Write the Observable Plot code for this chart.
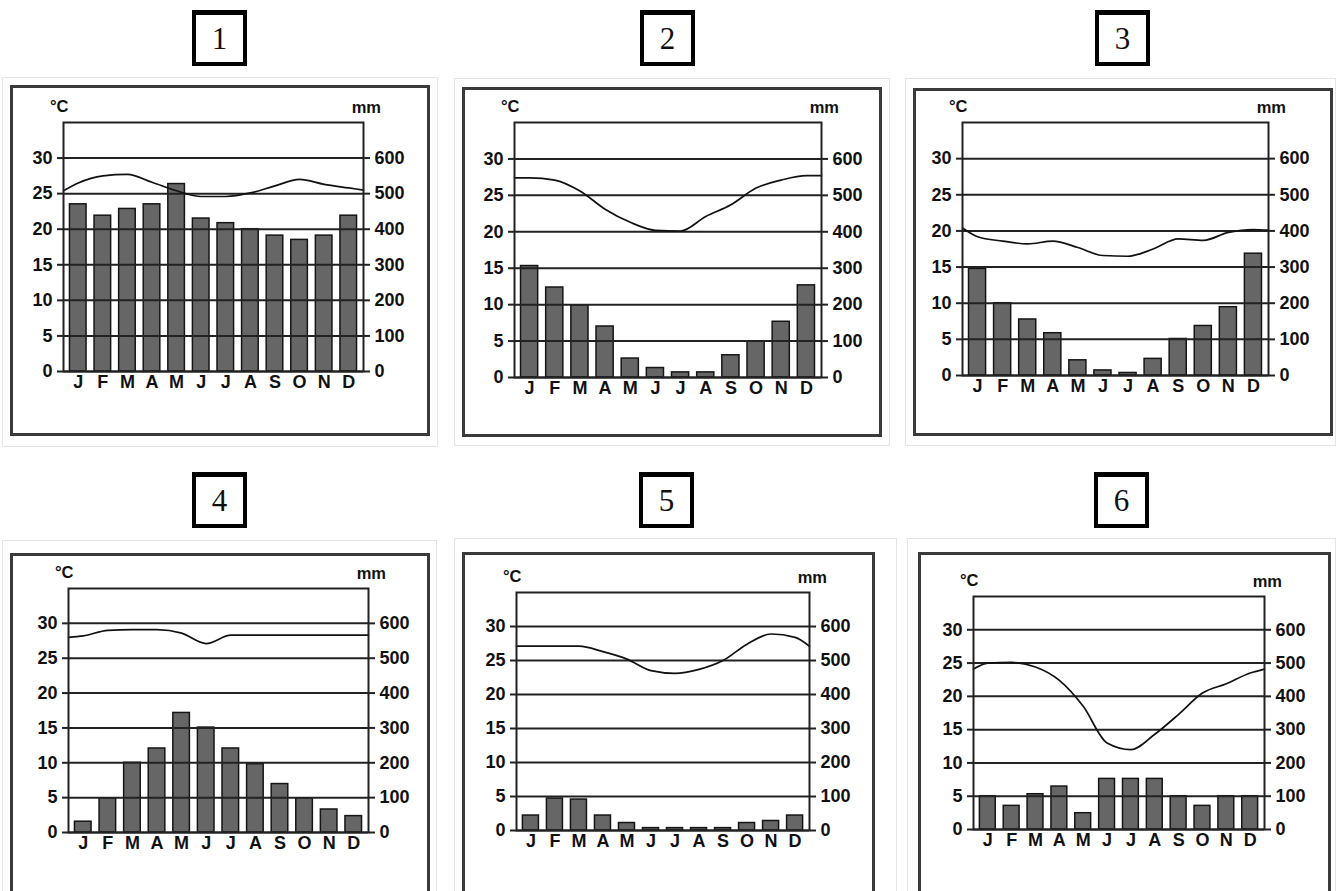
<!DOCTYPE html>
<html><head><meta charset="utf-8">
<script src="https://cdn.jsdelivr.net/npm/d3@7"></script>
<script src="https://cdn.jsdelivr.net/npm/@observablehq/plot@0.6"></script>
<style>
body{margin:0;background:#fff;overflow:hidden}
#page{position:relative;width:1336px;height:891px;overflow:hidden;font-family:"Liberation Sans",Arial,sans-serif}
.num{position:absolute;box-sizing:border-box;width:55px;height:56px;border:4px solid #000;border-top-width:5px;background:#fff;font-family:"Liberation Serif","Times New Roman",serif;font-size:31px;display:flex;align-items:center;justify-content:center;color:#111}
.outer{position:absolute;border:1px solid #e4e4e4;box-sizing:border-box}
.frame{position:absolute;border:3px solid #3a3a3a;box-sizing:border-box;background:#fff}
.unit{position:absolute;font-weight:bold;font-size:16.5px;line-height:18px;color:#111;white-space:nowrap}
.chart{position:absolute}
</style>
</head><body><div id="page"></div>
<script>
// ---- shared labels / ticks ----
const months = ["J","F","M","A","M","J","J","A","S","O","N","D"];
const tempTicks = [0, 5, 10, 15, 20, 25, 30];      // °C (left axis)
const precipPerDegree = 20;                          // 30 °C ↔ 600 mm (right axis)
const titles = ["1", "2", "3", "4", "5", "6"];

// ---- precipitation (mm), J..D ----
const precip1 = [470, 438, 457, 470, 527, 430, 417, 400, 382, 370, 382, 438];
const precip2 = [306, 247, 198, 140, 52, 26, 14, 14, 61, 99, 153, 253];
const precip3 = [295, 200, 155, 117, 42, 14, 7, 46, 101, 137, 189, 337];
const precip4 = [31, 98, 200, 241, 343, 301, 241, 196, 139, 98, 66, 47];
const precip5 = [44, 94, 91, 44, 22, 7, 7, 7, 7, 22, 28, 44];
const precip6 = [100, 71, 106, 129, 49, 152, 152, 152, 100, 71, 100, 100];

// ---- temperature (°C): left edge of plot, J..D, right edge of plot ----
const temp1 = [25.4, 26.5, 27.5, 27.7, 26.6, 25.4, 24.6, 24.6, 25.1, 26.1, 27.0, 26.3, 25.8, 25.5];
const temp2 = [27.4, 27.4, 27.1, 25.6, 23.1, 21.3, 20.2, 20.1, 22.1, 23.7, 26.0, 27.1, 27.7, 27.7];
const temp3 = [20.4, 19.2, 18.6, 18.2, 18.6, 17.7, 16.6, 16.5, 17.5, 18.9, 18.7, 19.8, 20.2, 20.1];
const temp4 = [28.0, 28.2, 29.0, 29.1, 29.1, 28.6, 27.1, 28.3, 28.3, 28.3, 28.3, 28.3, 28.3, 28.3];
const temp5 = [27.1, 27.1, 27.1, 27.1, 26.3, 25.2, 23.5, 23.1, 23.7, 25.0, 27.4, 28.9, 28.4, 27.1];
const temp6 = [24.1, 25.0, 25.1, 24.4, 22.4, 18.5, 13.0, 12.0, 14.3, 17.3, 20.5, 21.9, 23.5, 24.1];

const precipAll = [precip1, precip2, precip3, precip4, precip5, precip6];
const tempAll = [temp1, temp2, temp3, temp4, temp5, temp6];

// ---- layout (page pixels) ----
const layout = [
  {box:[192,10],  outer:[2,77,438,447],    frame:[10,85,430,436],    plot:[63,122,363,371]},
  {box:[640,10],  outer:[454,78,890,446],  frame:[462,87,882,437],   plot:[514,122,821,377]},
  {box:[1095,10], outer:[905,78,1336,446], frame:[913,88,1333,436],  plot:[962,122,1268,375]},
  {box:[192,472], outer:[2,540,437,895],   frame:[10,553,430,894],   plot:[68,588,368,832]},
  {box:[639,472], outer:[454,538,897,895], frame:[462,552,875,894],  plot:[516,592,809,830]},
  {box:[1094,472],outer:[907,538,1336,895],frame:[918,552,1331,894], plot:[973,596,1264,829]}
];
const X0 = -0.1, X1 = 12.1;
const labelFont = {fontSize: 18, fontWeight: "bold", fill: "#111"};

const page = document.getElementById("page");
function div(cls, css, text) {
  const d = document.createElement("div");
  d.className = cls;
  Object.assign(d.style, css);
  if (text != null) d.textContent = text;
  page.appendChild(d);
  return d;
}

function chart(L, precip, temp) {
  const [fx0, fy0, fx1, fy1] = L.frame;
  const [px0, py0, px1, py1] = L.plot;
  const bars = months.map((m, i) => ({i, m, p: precip[i]}));
  const xs = [X0, ...months.map((m, i) => i + 0.5), X1];
  const line = temp.map((t, k) => ({x: xs[k], t}));
  return Plot.plot({
    width: fx1 - fx0, height: fy1 - fy0,
    marginLeft: px0 - fx0, marginRight: fx1 - px1,
    marginTop: py0 - fy0, marginBottom: fy1 - py1,
    x: {domain: [X0, X1]},
    y: {domain: [0, 35]},
    style: {fontFamily: "Liberation Sans, Arial, sans-serif", fontSize: "18px", fontWeight: "bold", color: "#111", background: "transparent", overflow: "visible"},
    marks: [
      Plot.rect(bars, {x1: d => d.i, x2: d => d.i + 1, y1: 0, y2: d => d.p / precipPerDegree,
        insetLeft: 4, insetRight: 4, fill: "#666", stroke: "#151515", strokeWidth: 1.5}),
      Plot.ruleY(tempTicks, {stroke: "#222", strokeWidth: 2}),
      Plot.line(line, {x: "x", y: "t", curve: "monotone-x", stroke: "#111", strokeWidth: 1.7}),
      Plot.axisY(tempTicks, {anchor: "left", tickSize: 6, tickPadding: 5, stroke: "#222", strokeWidth: 2, label: null, ...labelFont}),
      Plot.axisY(tempTicks, {anchor: "right", tickSize: 6, tickPadding: 5, stroke: "#222", strokeWidth: 2,
        tickFormat: d => d * precipPerDegree, label: null, ...labelFont}),
      Plot.axisX(months.map((m, i) => i + 0.5), {tickSize: 0, tickPadding: 4,
        tickFormat: d => months[Math.floor(d)], label: null, ...labelFont}),
      Plot.frame({stroke: "#222", strokeWidth: 2})
    ]
  });
}

layout.forEach((L, k) => {
  const [ox0, oy0, ox1, oy1] = L.outer;
  div("outer", {left: ox0 + "px", top: oy0 + "px", width: (ox1 - ox0) + "px", height: (oy1 - oy0) + "px"});
  const [fx0, fy0, fx1, fy1] = L.frame;
  div("frame", {left: fx0 + "px", top: fy0 + "px", width: (fx1 - fx0) + "px", height: (fy1 - fy0) + "px"});
  const svg = chart(L, precipAll[k], tempAll[k]);
  svg.classList.add("chart");
  svg.style.left = fx0 + "px";
  svg.style.top = fy0 + "px";
  page.appendChild(svg);
  const [px0, py0, px1] = L.plot;
  div("unit", {left: (px0 - 13) + "px", top: (py0 - 25) + "px"}, "°C");
  div("unit", {left: (px1 + 18) + "px", top: (py0 - 24) + "px", transform: "translateX(-100%)"}, "mm");
  div("num", {left: L.box[0] + "px", top: L.box[1] + "px"}, titles[k]);
});
</script>
</body></html>
